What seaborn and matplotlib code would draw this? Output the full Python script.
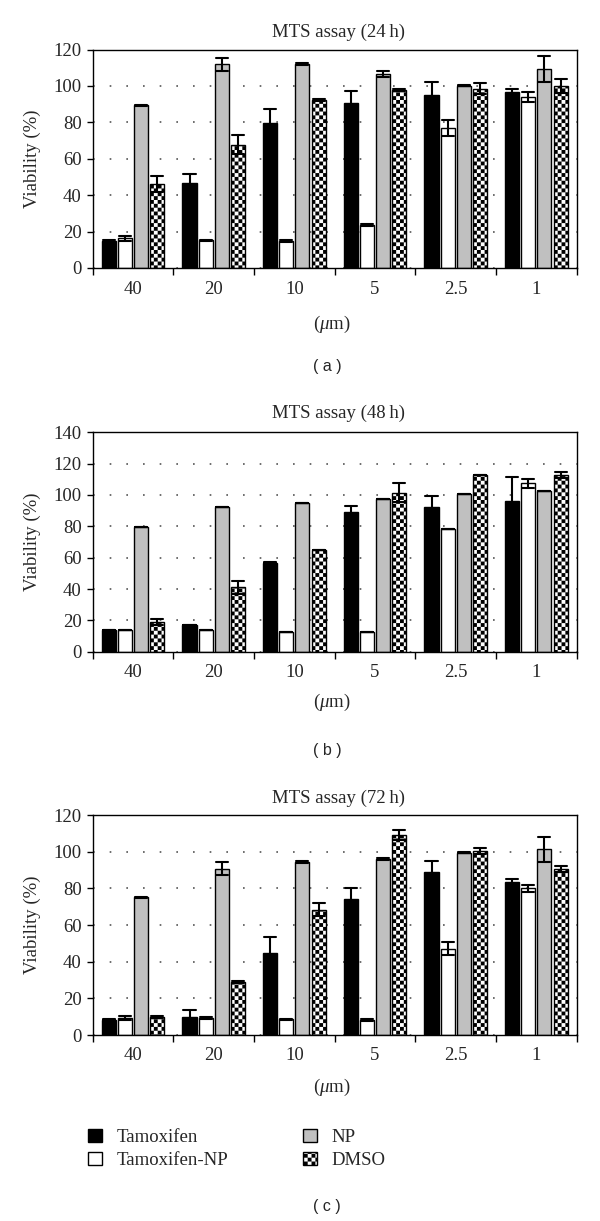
import warnings
warnings.filterwarnings('ignore')
import numpy as np
import pandas as pd
import matplotlib
matplotlib.use('Agg')
import matplotlib.pyplot as plt
import matplotlib.hatch as mhatch
from matplotlib.path import Path
from matplotlib.patches import Patch
import seaborn as sns

# ---------------- data ----------------
concentrations = ['40', '20', '10', '5', '2.5', '1']
series_names = ['Tamoxifen', 'Tamoxifen-NP', 'NP', 'DMSO']
panel_titles = ['MTS assay (24\u2009h)', 'MTS assay (48\u2009h)', 'MTS assay (72\u2009h)']
panel_tags = ['( a )', '( b )', '( c )']
y_max = [120, 140, 120]

tam_24 = [15.0, 46.9, 79.5, 90.4, 94.8, 96.8]
tam_24_err = [0.5, 4.6, 8.0, 7.0, 7.1, 1.6]
tnp_24 = [16.3, 15.3, 14.8, 23.6, 76.9, 93.9]
tnp_24_err = [1.5, 0.3, 0.5, 0.3, 4.4, 2.5]
np_24 = [89.3, 112.0, 112.1, 106.5, 100.1, 109.2]
np_24_err = [0.3, 3.6, 0.4, 1.8, 0.3, 7.3]
dmso_24 = [46.2, 67.8, 92.2, 97.7, 98.4, 100.1]
dmso_24_err = [4.4, 5.4, 0.5, 0.5, 3.0, 3.8]

tam_48 = [14.0, 17.0, 56.8, 88.9, 92.1, 96.4]
tam_48_err = [0.0, 0.0, 0.5, 4.0, 7.0, 15.3]
tnp_48 = [13.8, 13.6, 12.8, 12.6, 78.5, 107.4]
tnp_48_err = [0.0, 0.0, 0.0, 0.0, 0.0, 2.8]
np_48 = [79.6, 92.1, 95.1, 97.2, 100.4, 102.6]
np_48_err = [0.0, 0.0, 0.0, 0.0, 0.0, 0.0]
dmso_48 = [19.1, 41.1, 64.9, 101.5, 112.8, 113.0]
dmso_48_err = [2.0, 4.0, 0.0, 6.2, 0.0, 1.9]

tam_72 = [8.4, 10.0, 44.5, 74.0, 88.9, 83.6]
tam_72_err = [0.3, 3.6, 8.8, 6.0, 6.2, 1.6]
tnp_72 = [9.3, 9.5, 8.5, 8.2, 47.1, 80.0]
tnp_72_err = [1.0, 0.5, 0.5, 0.3, 3.6, 1.8]
np_72 = [75.1, 90.7, 94.4, 96.2, 99.5, 101.3]
np_72_err = [0.3, 3.5, 0.5, 0.5, 0.3, 6.9]
dmso_72 = [10.0, 28.7, 68.4, 109.1, 100.5, 90.7]
dmso_72_err = [0.5, 0.5, 3.4, 2.5, 1.7, 1.6]

panels = [
    ([tam_24, tnp_24, np_24, dmso_24], [tam_24_err, tnp_24_err, np_24_err, dmso_24_err]),
    ([tam_48, tnp_48, np_48, dmso_48], [tam_48_err, tnp_48_err, np_48_err, dmso_48_err]),
    ([tam_72, tnp_72, np_72, dmso_72], [tam_72_err, tnp_72_err, np_72_err, dmso_72_err]),
]

palette = {'Tamoxifen': '#000000', 'Tamoxifen-NP': '#ffffff',
           'NP': '#c0c0c0', 'DMSO': '#ffffff'}


# ---------------- checkerboard hatch ----------------
class CheckerHatch(mhatch.HatchPatternBase):
    def __init__(self, hatch, density):
        self.n = 26 if 'c' in hatch else 0
        self.num_vertices = (self.n * self.n // 2) * 5

    def set_vertices_and_codes(self, vertices, codes):
        n = self.n
        s = 1.0 / n
        k = 0
        for i in range(n):
            for j in range(n):
                if (i + j) % 2 == 0:
                    x0, y0 = i * s, j * s
                    vertices[k:k + 5] = [(x0, y0), (x0 + s, y0), (x0 + s, y0 + s),
                                         (x0, y0 + s), (x0, y0)]
                    codes[k:k + 5] = [Path.MOVETO, Path.LINETO, Path.LINETO,
                                      Path.LINETO, Path.CLOSEPOLY]
                    k += 5


mhatch._hatch_types.append(CheckerHatch)

sns.set_style('ticks')
plt.rcParams['font.family'] = ['Liberation Serif', 'DejaVu Serif']
plt.rcParams['mathtext.fontset'] = 'custom'
plt.rcParams['mathtext.it'] = 'Liberation Serif:italic'
plt.rcParams['mathtext.rm'] = 'Liberation Serif'
plt.rcParams['hatch.linewidth'] = 0.01
plt.rcParams['hatch.color'] = 'black'

W, H = 600, 1221
fig = plt.figure(figsize=(W / 100, H / 100), dpi=100)

ax_left, ax_right = 92.7, 576.7
ax_tops = [49.5, 432.3, 815.0]
ax_bottoms = [268.0, 651.7, 1035.0]
title_y = [32, 413, 798]
unit_y = [324, 702, 1087]
tag_y = [367, 750, 1207]
FS = 13.5

for p, ((vals, errs), top, bot) in enumerate(zip(panels, ax_tops, ax_bottoms)):
    ax = fig.add_axes([ax_left / W, 1 - bot / H, (ax_right - ax_left) / W, (bot - top) / H])
    rows = []
    for s, v_list, e_list in zip(series_names, vals, errs):
        for c, v, e in zip(concentrations, v_list, e_list):
            rows.append({'conc': c, 'series': s, 'value': v - e})
            rows.append({'conc': c, 'series': s, 'value': v + e})
    df = pd.DataFrame(rows)

    sns.barplot(data=df, x='conc', y='value', hue='series',
                order=concentrations, hue_order=series_names,
                palette=palette, saturation=1, width=0.8, gap=0.13,
                errorbar=lambda v: (v.min(), v.max()), capsize=0.6,
                err_kws={'color': 'black', 'linewidth': 1.5},
                edgecolor='black', linewidth=1.0, legend=False, ax=ax)

    for cont in ax.containers:
        if cont.get_label() == 'DMSO':
            for bar in cont:
                bar.set_hatch('c')
    if not any(c.get_label() == 'DMSO' for c in ax.containers):
        for bar in ax.containers[3]:
            bar.set_hatch('c')

    ax.set_xlim(-0.5, 5.5)
    ax.set_ylim(0, y_max[p])
    ax.set_xlabel('')
    ax.set_ylabel('')
    ax.set_yticks(np.arange(0, y_max[p] + 1, 20))
    ax.set_xticks(np.arange(-0.5, 6, 1))
    ax.set_xticklabels([])
    ax.set_xticks(np.arange(0, 6), minor=True)
    ax.set_xticklabels(concentrations, minor=True)
    ax.tick_params(axis='x', which='major', direction='out', length=5, width=1, color='black')
    ax.tick_params(axis='x', which='minor', length=0, pad=9, labelsize=FS)
    ax.tick_params(axis='y', direction='out', length=4, width=1, color='black',
                   labelsize=FS, pad=4)
    for sp in ax.spines.values():
        sp.set_visible(True)
        sp.set_color('black')
        sp.set_linewidth(1.0)
    ax.yaxis.grid(True, linestyle=(0, (1, 9)), color='#555555', linewidth=1.2)
    ax.xaxis.grid(False)
    ax.set_axisbelow(True)

    fig.text(338 / W, 1 - title_y[p] / H, panel_titles[p], ha='center', va='center', fontsize=FS)
    fig.text(332 / W, 1 - unit_y[p] / H, r'($\mu$m)', ha='center', va='center', fontsize=FS)
    fig.text(327 / W, 1 - tag_y[p] / H, panel_tags[p], ha='center', va='center',
             fontsize=11.5, family=['Liberation Sans', 'DejaVu Sans'])
    fig.text(32 / W, 1 - (top + bot) / 2 / H, 'Viability (%)', ha='center', va='center',
             rotation=90, fontsize=FS)

handles = [Patch(facecolor=palette[s], edgecolor='black', linewidth=1.0,
                 hatch='c' if s == 'DMSO' else None) for s in series_names]
fig.legend(handles, series_names, ncol=2, loc='center left',
           bbox_to_anchor=(88 / W, 1 - 1149 / H), frameon=False,
           borderpad=0, borderaxespad=0, handlelength=0.72, handleheight=0.72,
           handletextpad=0.8, columnspacing=4.0, labelspacing=0.3, fontsize=13.5)

fig.savefig('out.png', dpi=100)
